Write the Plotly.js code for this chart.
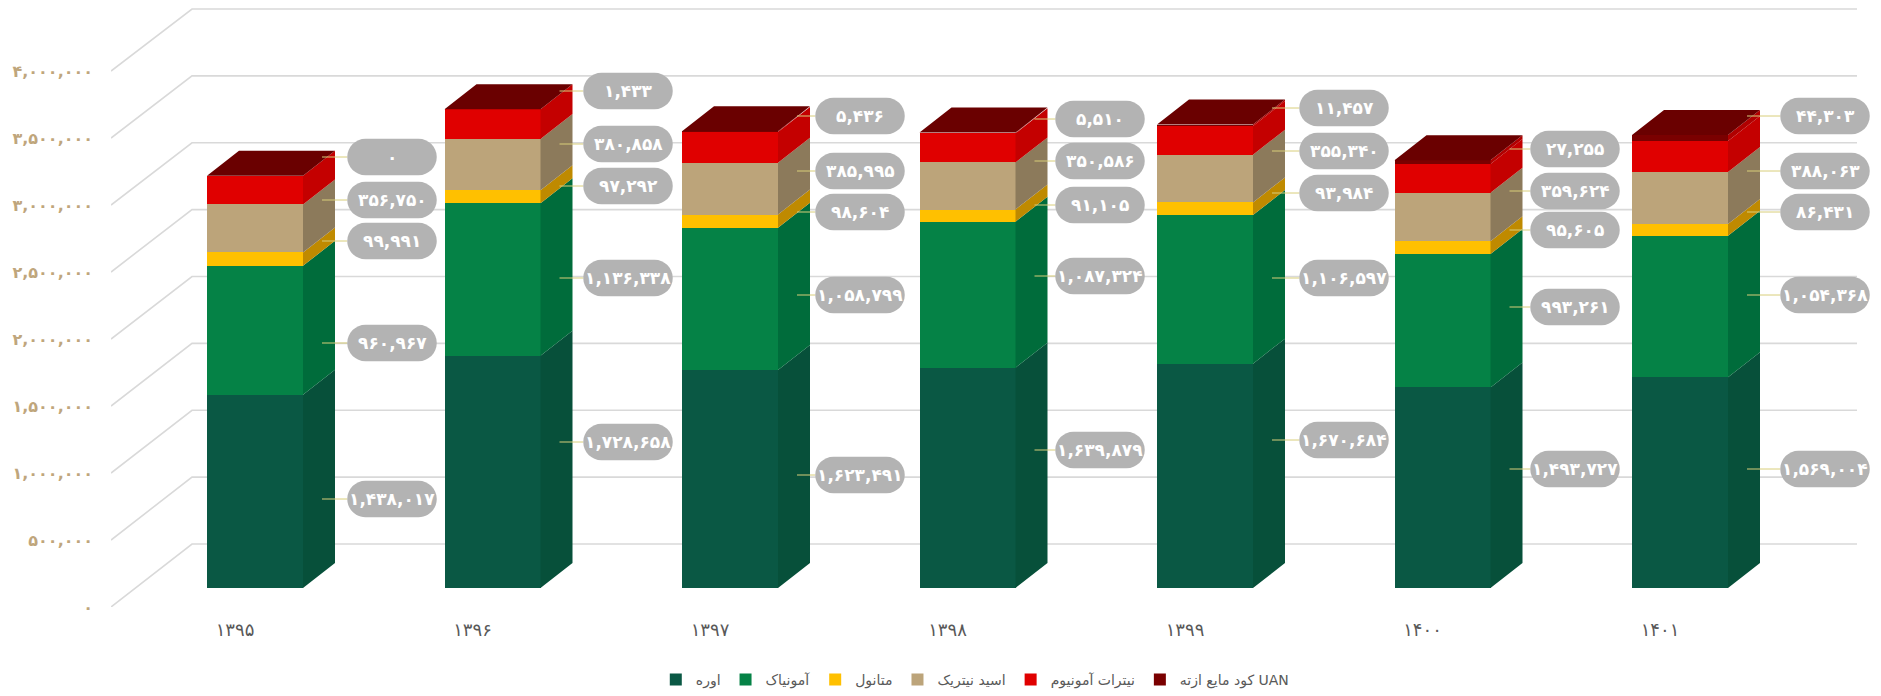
<!DOCTYPE html>
<html><head><meta charset="utf-8">
<script src="https://cdn.plot.ly/plotly-3.0.1.min.js"></script>
<style>html,body{margin:0;padding:0;background:#fff;overflow:hidden}</style>
</head><body><div id="chart" style="width:1881px;height:696px"></div>
<script>
const years = ['۱۳۹۵','۱۳۹۶','۱۳۹۷','۱۳۹۸','۱۳۹۹','۱۴۰۰','۱۴۰۱'];
const urea = [1438017,1728658,1623491,1639879,1670684,1493727,1569004];
const ammonia = [960967,1136338,1058799,1087324,1106597,993261,1054368];
const methanol = [99991,97292,98604,91105,93984,95605,86431];
const nitricAcid = [356750,380858,385995,350586,355340,359624,388063];
const ammoniumNitrate = [214000,221000,228000,217000,213000,215000,230000];
const uan = [0,1433,5436,5510,11457,27255,44303];
const yTicks = [0,500000,1000000,1500000,2000000,2500000,3000000,3500000,4000000];
const seriesNames = ['اوره','آمونیاک','متانول','اسید نیتریک','نیترات آمونیوم','کود مایع ازته UAN'];
const seriesValues = [urea,ammonia,methanol,nitricAcid,ammoniumNitrate,uan];
const frontColors = ['#0A5844','#058246','#FFC000','#BCA47A','#E00000','#7A0000'];
const sideColors = ['#07503A','#006C3B','#BF8A00','#8C7A5B','#C40000','#B00000'];
const topColor = '#6A0000';

// layout geometry (pixels)
const W=1881,H=696,L=111,PB=607;
const STEP=237.5,C0=255,BAR=96,DX=32,DY=25;
const AXIS_SCALE=134e-6,BACK_SCALE=133.75e-6,BAR_SCALE=134.3e-6,BAR_BASE=588,BACK_BASE=544;
const px2x=p=>(p-C0)/STEP;
const py2v=p=>(PB-p)/AXIS_SCALE;
const yMax=PB/AXIS_SCALE;
const y2Min=-(PB-BAR_BASE)/BAR_SCALE, y2Max=BAR_BASE/BAR_SCALE;
const dyV=DY/BAR_SCALE, dxX=DX/STEP, halfBar=BAR/2/STEP;

const fa=n=>Math.round(n).toLocaleString('en-US').replace(/\d/g,d=>'۰۱۲۳۴۵۶۷۸۹'[+d]);

const traces=[];
// walls: floor-to-back diagonals and back-wall gridlines
let gx=[],gy=[];
yTicks.forEach(t=>{const back=py2v(BACK_BASE-t*BACK_SCALE);
  gx.push(px2x(L),px2x(192),px2x(1857),null);gy.push(t,back,back,null);});
traces.push({type:'scatter',mode:'lines',x:gx,y:gy,xaxis:'x',yaxis:'y',line:{color:'#D9D9D9',width:1.6},showlegend:false,hoverinfo:'skip'});
// front faces
seriesNames.forEach((n,s)=>traces.push({type:'bar',name:n,x:years.map((_,i)=>i),y:seriesValues[s],width:BAR/STEP,xaxis:'x',yaxis:'y2',
  marker:{color:frontColors[s],line:{width:0}},hoverinfo:'skip'}));
// side faces
const cum=years.map(()=>0);
seriesNames.forEach((n,s)=>{
  const xs=[],ys=[];
  years.forEach((_,i)=>{const b=cum[i],t=b+seriesValues[s][i],x=i+halfBar;
    xs.push(x,x+dxX,x+dxX,x,null);ys.push(b,b+dyV,t+dyV,t,null);cum[i]=t;});
  traces.push({type:'scatter',mode:'lines',x:xs,y:ys,xaxis:'x',yaxis:'y2',fill:'toself',fillcolor:sideColors[s],line:{width:0,color:sideColors[s]},showlegend:false,hoverinfo:'skip'});
});
// top faces
{const xs=[],ys=[];years.forEach((_,i)=>{const t=cum[i];xs.push(i-halfBar,i+halfBar,i+halfBar+dxX,i-halfBar+dxX,null);ys.push(t,t,t+dyV,t+dyV,null);});
traces.push({type:'scatter',mode:'lines',x:xs,y:ys,xaxis:'x',yaxis:'y2',fill:'toself',fillcolor:topColor,line:{width:0,color:topColor},showlegend:false,hoverinfo:'skip'});}

// pills
const pillCenters=[392,628,860,1100,1344,1575,1825];
const pillY=[ // per series: urea, ammonia, methanol, nitric, (none), uan
 [499,442,475,450,440,469,469],
 [343,278,295,276,278,307,295],
 [241,186,212,205,193,230,212],
 [200,144,171,161,151,191,171],
 null,
 [157,91,116,119,108,149,116]];
const PW=89.5,PH=36.5,r=PH/2,k=r*0.55,hw=PW/2-r;
const pill=`M ${-hw} ${r} L ${hw} ${r} C ${hw+k} ${r} ${hw+r} ${k} ${hw+r} 0 C ${hw+r} ${-k} ${hw+k} ${-r} ${hw} ${-r} L ${-hw} ${-r} C ${-hw-k} ${-r} ${-hw-r} ${-k} ${-hw-r} 0 C ${-hw-r} ${k} ${-hw-k} ${r} ${-hw} ${r} Z`;
const shapes=[],annotations=[];
seriesValues.forEach((vals,s)=>{ if(!pillY[s])return;
  vals.forEach((v,i)=>{const py=pillY[s][i],cx=pillCenters[i],barX=C0+STEP*i;
    shapes.push({type:'line',xref:'x',yref:'y',x0:px2x(barX+67),x1:px2x(cx-PW/2),y0:py2v(py),y1:py2v(py),line:{color:'#D8CE7A',width:1}});
    shapes.push({type:'path',xref:'x',yref:'y',xsizemode:'pixel',ysizemode:'pixel',xanchor:px2x(cx),yanchor:py2v(py),path:pill,fillcolor:'#B3B3B3',line:{width:0}});
    annotations.push({xref:'x',yref:'y',x:px2x(cx),y:py2v(py),text:'<b>'+fa(v)+'</b>',showarrow:false,xanchor:'center',yanchor:'middle',font:{family:'DejaVu Sans',size:17,color:'#FFFFFF'}});
  });
});

const layout={
  width:W,height:H,margin:{l:L,r:0,t:0,b:H-PB,pad:0},paper_bgcolor:'#fff',plot_bgcolor:'rgba(0,0,0,0)',
  barmode:'stack',showlegend:true,
  xaxis:{range:[px2x(L),px2x(W)],tickmode:'array',tickvals:years.map((_,i)=>i-20/STEP),ticktext:years,showgrid:false,zeroline:false,showline:false,ticks:'',ticklabelstandoff:10,
    tickfont:{family:'DejaVu Sans',size:18,color:'#595959'},fixedrange:true},
  yaxis:{range:[0,yMax],tickmode:'array',tickvals:yTicks,ticktext:yTicks.map(fa),showgrid:false,zeroline:false,showline:false,ticks:'',ticklabelstandoff:17,
    tickfont:{family:'DejaVu Sans',size:16,weight:'bold',color:'#BFA67C'},fixedrange:true},
  yaxis2:{overlaying:'y',range:[y2Min,y2Max],visible:false,fixedrange:true,showgrid:false,zeroline:false},
  legend:{orientation:'h',x:0.4883,xanchor:'center',y:-(680-PB)/PB,yanchor:'middle',traceorder:'normal',font:{family:'DejaVu Sans',size:14,color:'#595959'}},
  shapes,annotations
};
Plotly.newPlot('chart',traces,layout,{staticPlot:true,displayModeBar:false});
</script></body></html>
